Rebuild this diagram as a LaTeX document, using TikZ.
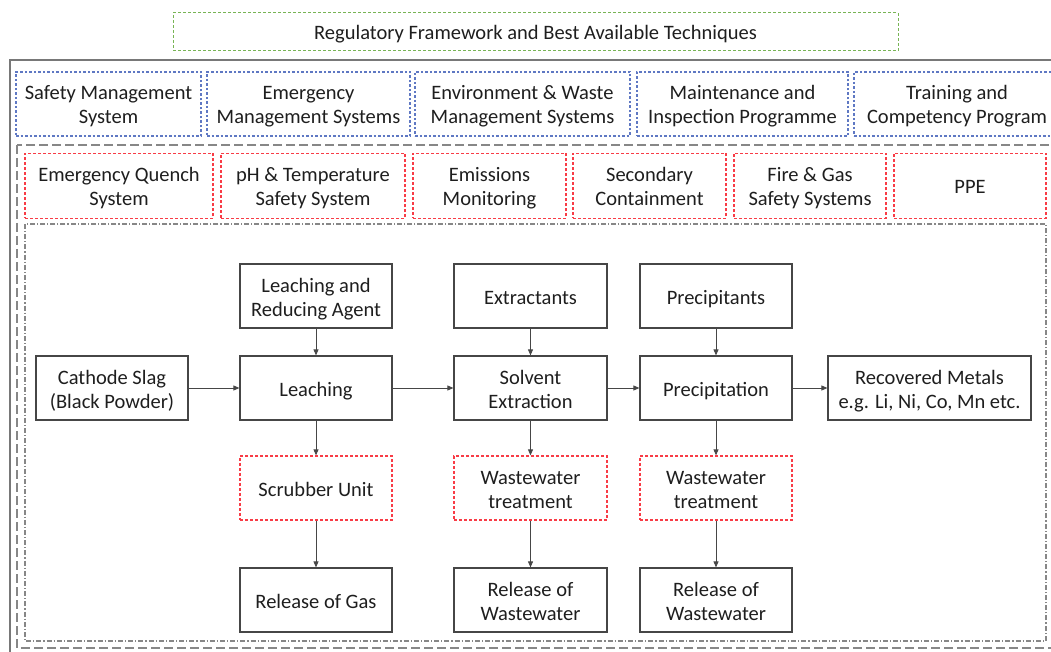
\documentclass[tikz,border=0pt]{standalone}
\usepackage{fontspec}
\setmainfont{Carlito}
\usetikzlibrary{arrows.meta}

\definecolor{txt}{RGB}{30,30,30}
\definecolor{boxline}{RGB}{70,70,70}
\definecolor{framegray}{RGB}{120,120,120}
\definecolor{layergray}{RGB}{135,135,135}
\definecolor{greenline}{RGB}{120,180,85}
\definecolor{blueline}{RGB}{95,120,195}
\definecolor{redline}{RGB}{248,60,70}

\tikzset{
  box/.style={rectangle, align=center, inner sep=0pt, text=txt,
    execute at begin node={\rule{0pt}{21pt}},
    execute at end node={\rule[-5pt]{0pt}{5pt}}},
  % struts for nodes with two lines of text
  two/.style={execute at begin node={\rule{0pt}{45pt}}},
  proc/.style={box, draw=boxline, line width=1.2pt, minimum width=152pt, minimum height=64pt},
  barrier/.style={box, draw=redline, line width=1.3pt, dash pattern=on 3pt off 2pt, minimum height=65pt},
  mgmt/.style={box, two, draw=blueline, line width=1.1pt, dash pattern=on 2.5pt off 2pt, minimum height=64pt},
  regul/.style={box, draw=greenline, line width=1pt, dash pattern=on 3pt off 2pt},
  flow/.style={draw=boxline, line width=0.8pt, -{Triangle[length=6pt,width=5pt]}},
}

\begin{document}
\begin{tikzpicture}[x=1pt, y=-1pt, font=\fontsize{20.5}{24}\selectfont]
\useasboundingbox (0,0) rectangle (1051,652);
\clip (0,0) rectangle (1051,652);

% layered frames
\draw[framegray, line width=2pt] (10,60) rectangle (1070,680);
\draw[layergray, line width=2pt, dash pattern=on 9pt off 4pt] (17,145) rectangle (1070,648);
\draw[layergray, line width=1.3pt, dash pattern=on 5pt off 2pt on 1.2pt off 2pt] (25,224) rectangle (1046,641);

% regulatory layer
\node[regul, minimum width=725pt, minimum height=38pt] (reg) at (535.5,32) {Regulatory Framework and Best Available Techniques};

% management systems
\node[mgmt, minimum width=185pt] (m1) at (108.5,104) {Safety Management\\System};
\node[mgmt, minimum width=203pt] (m2) at (308.5,104) {Emergency\\Management Systems};
\node[mgmt, minimum width=215pt] (m3) at (522.5,104) {Environment \& Waste\\Management Systems};
\node[mgmt, minimum width=211pt] (m4) at (742.5,104) {Maintenance and\\Inspection Programme};
\node[mgmt, minimum width=206pt] (m5) at (957,104) {Training and\\Competency Program};

% safety barriers
\node[barrier, two, minimum width=188pt] (b1) at (119,186) {Emergency Quench\\System};
\node[barrier, two, minimum width=184pt] (b2) at (313,186) {pH \& Temperature\\Safety System};
\node[barrier, two, minimum width=153pt] (b3) at (489.5,186) {Emissions\\Monitoring};
\node[barrier, two, minimum width=153pt] (b4) at (649.5,186) {Secondary\\Containment};
\node[barrier, two, minimum width=152pt] (b5) at (810,186) {Fire \& Gas\\Safety Systems};
\node[barrier, minimum width=152pt] (b6) at (970,186) {PPE};

% process inputs
\node[proc, two] (agent) at (316,296) {Leaching and\\Reducing Agent};
\node[proc, minimum width=153pt] (extr) at (530.5,296) {Extractants};
\node[proc] (prec) at (716,296) {Precipitants};

% main process line
\node[proc, two] (slag) at (112,388) {Cathode Slag\\(Black Powder)};
\node[proc] (leach) at (316,388) {Leaching};
\node[proc, two, minimum width=153pt] (sx) at (530.5,388) {Solvent\\Extraction};
\node[proc] (precip) at (716,388) {Precipitation};
\node[proc, two, minimum width=203pt] (metals) at (929.5,388) {Recovered Metals\\e.g. Li, Ni, Co, Mn etc.};

% treatment units
\node[barrier, minimum width=152pt, minimum height=64pt] (scrub) at (316,488) {Scrubber Unit};
\node[barrier, two, minimum width=153pt, minimum height=64pt] (wwt1) at (530.5,488) {Wastewater\\treatment};
\node[barrier, two, minimum width=152pt, minimum height=64pt] (wwt2) at (716,488) {Wastewater\\treatment};

% releases
\node[proc] (gas) at (316,600) {Release of Gas};
\node[proc, two, minimum width=153pt] (ww1) at (530.5,600) {Release of\\Wastewater};
\node[proc, two] (ww2) at (716,600) {Release of\\Wastewater};

% connectors
\draw[flow] (slag) -- (leach);
\draw[flow] (leach) -- (sx);
\draw[flow] (sx) -- (precip);
\draw[flow] (precip) -- (metals);
\draw[flow] (agent) -- (leach);
\draw[flow] (extr) -- (sx);
\draw[flow] (prec) -- (precip);
\draw[flow] (leach) -- (scrub);
\draw[flow] (sx) -- (wwt1);
\draw[flow] (precip) -- (wwt2);
\draw[flow] (scrub) -- (gas);
\draw[flow] (wwt1) -- (ww1);
\draw[flow] (wwt2) -- (ww2);
\end{tikzpicture}
\end{document}
